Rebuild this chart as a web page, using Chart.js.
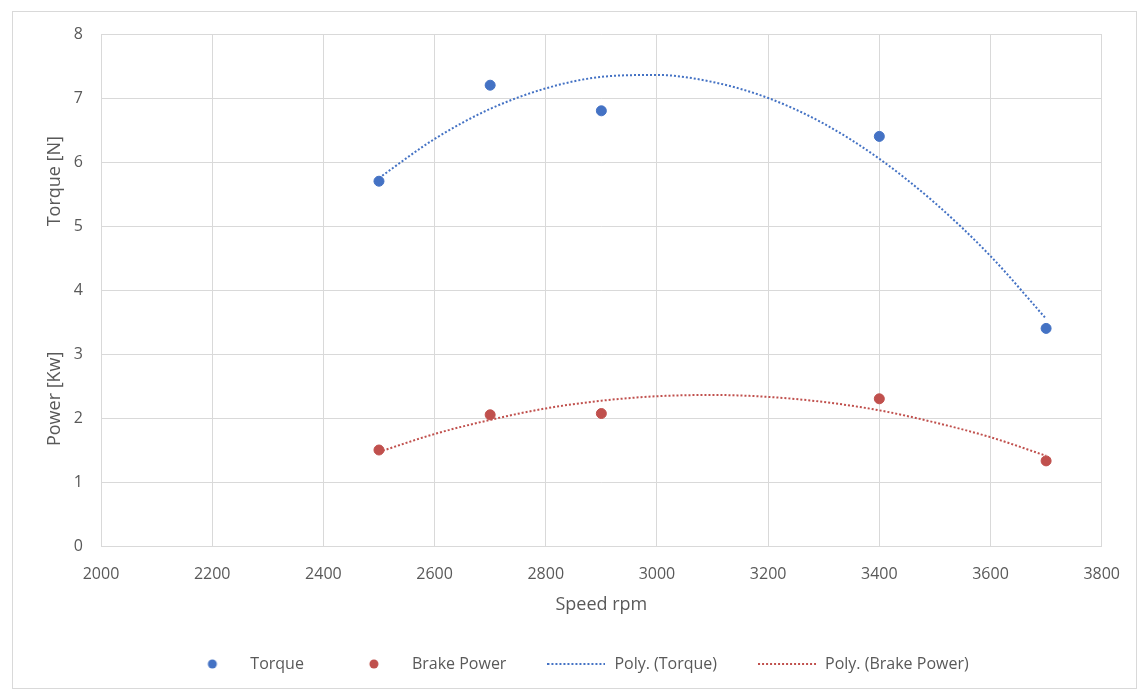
<!DOCTYPE html>
<html>
<head>
<meta charset="utf-8">
<script src="https://cdn.jsdelivr.net/npm/chart.js@4.4.0/dist/chart.umd.min.js"></script>
<style>
  html, body { margin: 0; padding: 0; background: #fff; }
  #frame { position: absolute; left: 12px; top: 11px; width: 1125px; height: 678px; border: 1px solid #d9d9d9; box-sizing: border-box; }
  #chart { position: absolute; left: 0; top: 0; }
</style>
</head>
<body>
<div id="frame"></div>
<canvas id="chart" width="1139" height="693"></canvas>
<script>
// measured points
const speedRpm = [2500, 2700, 2900, 3400, 3700];
const torque = [5.7, 7.2, 6.8, 6.4, 3.4];
const brakePower = [1.5, 2.05, 2.07, 2.3, 1.33];

// trendlines every 100 rpm
const trendRpm = [2500, 2600, 2700, 2800, 2900, 3000, 3100, 3200, 3300, 3400, 3500, 3600, 3700];
const torqueTrend = [5.75, 6.36, 6.83, 7.15, 7.33, 7.36, 7.25, 7.0, 6.6, 6.05, 5.36, 4.53, 3.55];
const powerTrend = [1.47, 1.75, 1.97, 2.15, 2.27, 2.34, 2.36, 2.33, 2.25, 2.12, 1.93, 1.70, 1.41];

const xTicks = [2000, 2200, 2400, 2600, 2800, 3000, 3200, 3400, 3600, 3800];
const yTicks = [0, 1, 2, 3, 4, 5, 6, 7, 8];

const BLUE = '#4472C4';
const RED = '#C0504D';
const TEXT = '#595959';
const GRID = '#d9d9d9';
const FONT = "'Open Sans', sans-serif";

function toPoints(xs, ys) {
    return xs.map((x, i) => ({ x: x, y: ys[i] }));
}

// small images used as legend symbols
function dotIcon(color) {
    const c = document.createElement('canvas');
    c.width = 12; c.height = 12;
    const g = c.getContext('2d');
    g.fillStyle = color;
    g.beginPath();
    g.arc(6, 6, 4.5, 0, Math.PI * 2);
    g.fill();
    return c;
}

function dottedIcon(color) {
    const c = document.createElement('canvas');
    c.width = 58; c.height = 4;
    const g = c.getContext('2d');
    g.strokeStyle = color;
    g.lineWidth = 2;
    g.setLineDash([2, 2]);
    g.beginPath();
    g.moveTo(0, 2);
    g.lineTo(58, 2);
    g.stroke();
    return c;
}

const legendIcons = [dotIcon(BLUE), dotIcon(RED), dottedIcon(BLUE), dottedIcon(RED)];

const axisTitles = {
    id: 'axisTitles',
    afterLayout(chart) {
        // legend sits a bit right of the page centre, like the original
        chart.legend.left = 49;
    },
    afterDraw(chart) {
        const ctx = chart.ctx;
        ctx.save();
        ctx.fillStyle = TEXT;
        ctx.font = "18px " + FONT;
        ctx.textAlign = 'center';
        ctx.textBaseline = 'middle';
        [['Torque [N]', chart.scales.y.getPixelForValue(5.7)], ['Power [Kw]', chart.scales.y.getPixelForValue(2.3)]].forEach(([label, y]) => {
            ctx.save();
            ctx.translate(55, y);
            ctx.rotate(-Math.PI / 2);
            ctx.fillText(label, 0, 0);
            ctx.restore();
        });
        ctx.restore();
    }
};

new Chart(document.getElementById('chart'), {
    type: 'scatter',
    data: {
        datasets: [
            {
                label: 'Torque',
                data: toPoints(speedRpm, torque),
                backgroundColor: BLUE,
                borderColor: BLUE,
                pointRadius: 5,
                pointHoverRadius: 5
            },
            {
                label: 'Brake Power',
                data: toPoints(speedRpm, brakePower),
                backgroundColor: RED,
                borderColor: RED,
                pointRadius: 5,
                pointHoverRadius: 5
            },
            {
                label: 'Poly. (Torque)',
                data: toPoints(trendRpm, torqueTrend),
                showLine: true,
                borderColor: BLUE,
                backgroundColor: BLUE,
                borderWidth: 2,
                borderDash: [2, 2],
                cubicInterpolationMode: 'monotone',
                pointRadius: 0
            },
            {
                label: 'Poly. (Brake Power)',
                data: toPoints(trendRpm, powerTrend),
                showLine: true,
                borderColor: RED,
                backgroundColor: RED,
                borderWidth: 2,
                borderDash: [2, 2],
                cubicInterpolationMode: 'monotone',
                pointRadius: 0
            }
        ]
    },
    options: {
        responsive: false,
        animation: false,
        layout: { padding: { left: 0, right: 37, top: 34, bottom: 11 } },
        plugins: {
            tooltip: { enabled: false },
            legend: {
                position: 'bottom',
                labels: {
                    usePointStyle: true,
                    pointStyleWidth: 60,
                    padding: 40,
                    color: TEXT,
                    font: { family: FONT, size: 16 },
                    generateLabels(chart) {
                        const items = Chart.defaults.plugins.legend.labels.generateLabels(chart);
                        items.forEach((item, i) => { item.pointStyle = legendIcons[i]; });
                        return items;
                    }
                }
            }
        },
        scales: {
            x: {
                type: 'linear',
                min: xTicks[0],
                max: xTicks[xTicks.length - 1],
                afterBuildTicks: scale => { scale.ticks = xTicks.map(v => ({ value: v })); },
                afterFit: scale => { scale.height = 70; },
                grid: { color: GRID, drawTicks: false },
                border: { color: GRID },
                ticks: { color: TEXT, padding: 19, font: { family: FONT, size: 16 }, callback: v => String(v) },
                title: {
                    display: true,
                    text: 'Speed rpm',
                    color: TEXT,
                    font: { family: FONT, size: 18 },
                    padding: { top: 0, bottom: 0 }
                }
            },
            y: {
                min: yTicks[0],
                max: yTicks[yTicks.length - 1],
                afterBuildTicks: scale => { scale.ticks = yTicks.map(v => ({ value: v })); },
                afterFit: scale => { scale.width = 101; },
                grid: { color: GRID, drawTicks: false },
                border: { color: GRID },
                ticks: { color: TEXT, padding: 18, font: { family: FONT, size: 16 }, callback: v => String(v) }
            }
        }
    },
    plugins: [axisTitles]
});
</script>
</body>
</html>
